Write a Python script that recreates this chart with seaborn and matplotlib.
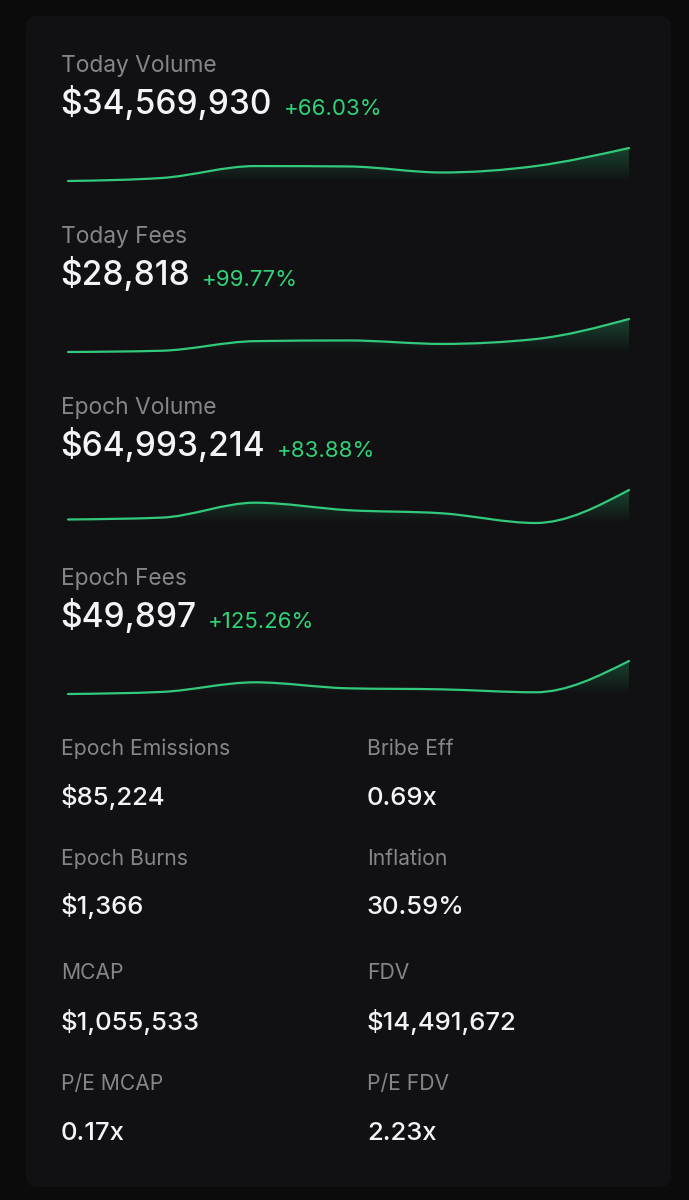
import numpy as np
import matplotlib
matplotlib.use("Agg")
import matplotlib.pyplot as plt
import seaborn as sns
from matplotlib.path import Path
from matplotlib.patches import PathPatch, FancyBboxPatch

# -------------------------
# data
# -------------------------

days = [0, 1, 2, 3, 4, 5, 6]

today_volume = [9.4, 11.7, 20.8, 20.5, 15.9, 20.8, 34.6]      # $M per day
today_fees = [5.1, 6.0, 12.9, 13.4, 10.9, 14.4, 28.8]         # $k per day
epoch_volume = [4.09, 4.61, 8.81, 6.70, 5.83, 3.10, 12.38]
epoch_fees = [2.0, 2.6, 5.4, 3.65, 3.35, 2.5, 11.6]

spark_titles = ["Today Volume", "Today Fees", "Epoch Volume", "Epoch Fees"]
spark_values = ["$34,569,930", "$28,818", "$64,993,214", "$49,897"]
spark_changes = ["+66.03%", "+99.77%", "+83.88%", "+125.26%"]
spark_series = [today_volume, today_fees, epoch_volume, epoch_fees]

stat_labels = ["Epoch Emissions", "Bribe Eff", "Epoch Burns", "Inflation",
               "MCAP", "FDV", "P/E MCAP", "P/E FDV"]
stat_values = ["$85,224", "0.69x", "$1,366", "30.59%",
               "$1,055,533", "$14,491,672", "0.17x", "2.23x"]

# -------------------------
# style
# -------------------------

BG = "#0b0b0c"
CARD = "#111113"
GREY = "#85858a"
WHITE = "#f4f4f6"
GREEN = "#33c97c"
GREEN_TXT = "#2fd478"

sns.set_theme(style="dark", rc={"figure.facecolor": BG, "axes.facecolor": "none"})
plt.rcParams["font.family"] = ["Inter", "DejaVu Sans"]

W, H = 689, 1200
fig = plt.figure(figsize=(W / 100, H / 100), dpi=100)

# background axes in pixel units
bg = fig.add_axes([0, 0, 1, 1])
bg.set_xlim(0, W)
bg.set_ylim(H, 0)
bg.axis("off")

card = FancyBboxPatch((26, 16), 645, 1171, boxstyle="round,pad=0,rounding_size=12",
                      fc=CARD, ec="none")
bg.add_patch(card)


def monotone_path(x, y):
    # d3 style monotoneX curve as cubic bezier segments
    x = np.asarray(x, float)
    y = np.asarray(y, float)
    n = len(x)
    h = np.diff(x)
    s = np.diff(y) / h
    t = np.zeros(n)
    for i in range(1, n - 1):
        p = (s[i - 1] * h[i] + s[i] * h[i - 1]) / (h[i - 1] + h[i])
        t[i] = (np.sign(s[i - 1]) + np.sign(s[i])) * min(abs(s[i - 1]), abs(s[i]), 0.5 * abs(p))
    t[0] = (3 * s[0] - t[1]) / 2
    t[-1] = (3 * s[-1] - t[-2]) / 2
    verts = [(x[0], y[0])]
    codes = [Path.MOVETO]
    for i in range(n - 1):
        dx = h[i] / 3
        verts += [(x[i] + dx, y[i] + dx * t[i]), (x[i + 1] - dx, y[i + 1] - dx * t[i + 1]),
                  (x[i + 1], y[i + 1])]
        codes += [Path.CURVE4] * 3
    return verts, codes


fill_cmap = sns.blend_palette([CARD, "#184430"], as_cmap=True)

for i in range(4):
    off = 171 * i

    bg.text(61, 72 + off, spark_titles[i], color=GREY, fontsize=16.4, va="baseline")
    t = bg.text(60, 114 + off, spark_values[i], color=WHITE, fontsize=24.1, va="baseline",
                fontweight="medium")
    fig.canvas.draw()
    bb = t.get_window_extent()
    bg.text(bb.x1 + 12, 115 + off, spark_changes[i], color=GREEN_TXT, fontsize=16,
            va="baseline")

    vals = spark_series[i]
    top, bot = 148 + off, 181 + off
    ax = fig.add_axes([68 / W, 1 - bot / H, (629 - 68) / W, (bot - top) / H])
    ax.set_xlim(days[0], days[-1])
    ax.set_ylim(min(vals), max(vals))
    ax.axis("off")

    verts, codes = monotone_path(days, vals)
    area = Path(verts + [(days[-1], min(vals)), (days[0], min(vals)), verts[0]],
                codes + [Path.LINETO, Path.LINETO, Path.CLOSEPOLY])
    clip = PathPatch(area, fc="none", ec="none", transform=ax.transData)
    ax.add_patch(clip)
    ramp = np.linspace(1, 0, 100).reshape(-1, 1)
    im = ax.imshow(ramp, cmap=fill_cmap, aspect="auto", vmin=0, vmax=1,
                   extent=[days[0], days[-1], min(vals), max(vals)], origin="upper")
    im.set_clip_path(clip)

    line = PathPatch(Path(verts, codes), fc="none", ec=GREEN, lw=1.6, clip_on=False,
                     capstyle="round")
    ax.add_patch(line)

# bottom stats grid
label_y = [755, 865, 979, 1090]
value_y = [805, 914, 1030, 1140]
cols = [61, 367]
for k in range(len(stat_labels)):
    r, c = k // 2, k % 2
    bg.text(cols[c], label_y[r], stat_labels[k], color=GREY, fontsize=15.2, va="baseline")
    bg.text(cols[c], value_y[r], stat_values[k], color=WHITE, fontsize=18.5, va="baseline",
            fontweight="medium")

fig.savefig("out.png", dpi=100, facecolor=BG)
